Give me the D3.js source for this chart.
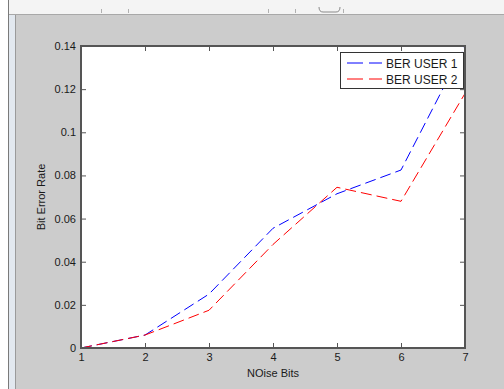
<!DOCTYPE html>
<html>
<head>
<meta charset="utf-8">
<script src="https://cdn.jsdelivr.net/npm/d3@7"></script>
<style>
  body { margin: 0; background: #cccccc; }
  svg { display: block; font-family: "Liberation Sans", Arial, sans-serif; }
</style>
</head>
<body>
<div id="chart"></div>
<script>
// data
var noiseBits = [1, 2, 3, 4, 5, 6, 7];
var berUser1 = [0, 0.006, 0.025, 0.0555, 0.0715, 0.0825, 0.14];
var berUser2 = [0, 0.006, 0.0175, 0.048, 0.0745, 0.068, 0.118];
var yTicks = [0, 0.02, 0.04, 0.06, 0.08, 0.1, 0.12, 0.14];
var seriesNames = ["BER USER 1", "BER USER 2"];
var seriesColors = ["#0000ff", "#ff0000"];

var width = 504, height = 389;
// note: can't call it "top", window.top is read only
var mLeft = 81, mRight = 465, mTop = 46, mBottom = 348;

var svg = d3.select("#chart").append("svg")
  .attr("width", width)
  .attr("height", height);

// window chrome bits (figure toolbar strip + left border)
svg.append("rect").attr("x", 0).attr("y", 0).attr("width", width).attr("height", height).attr("fill", "#cccccc");
svg.append("rect").attr("x", 0).attr("y", 0).attr("width", width).attr("height", 14).attr("fill", "#f4f4f4");
svg.append("line").attr("x1", 0).attr("x2", width).attr("y1", 14.5).attr("y2", 14.5).attr("stroke", "#a8a8a8");
[101, 128, 268, 295, 343].forEach(function(x) {
  svg.append("line").attr("x1", x + 0.5).attr("x2", x + 0.5).attr("y1", 9).attr("y2", 13).attr("stroke", "#b0b0b0");
});
svg.append("path").attr("d", "M319,7 Q319,12 323,12 L336,12 Q340,12 340,7")
  .attr("fill", "none").attr("stroke", "#8a8a8a");
svg.append("rect").attr("x", 0).attr("y", 0).attr("width", 8).attr("height", height).attr("fill", "#ffffff");
svg.append("line").attr("x1", 8.5).attr("x2", 8.5).attr("y1", 0).attr("y2", height).attr("stroke", "#7a7a7a");
svg.append("rect").attr("x", 9).attr("y", 15).attr("width", 6).attr("height", height - 15).attr("fill", "#e2e8ef");
svg.append("line").attr("x1", 15.5).attr("x2", 15.5).attr("y1", 15).attr("y2", height).attr("stroke", "#9a9a9a");

var x = d3.scaleLinear().domain([1, 7]).range([mLeft, mRight]);
var y = d3.scaleLinear().domain([0, 0.14]).range([mBottom, mTop]);

svg.append("rect")
  .attr("x", mLeft).attr("y", mTop)
  .attr("width", mRight - mLeft).attr("height", mBottom - mTop)
  .attr("fill", "#ffffff");

svg.append("clipPath").attr("id", "plotclip")
  .append("rect").attr("x", mLeft).attr("y", mTop - 1).attr("width", mRight - mLeft + 1).attr("height", mBottom - mTop + 2);

var line = d3.line()
  .x(function(d, i) { return x(noiseBits[i]); })
  .y(function(d) { return y(d); });

[berUser1, berUser2].forEach(function(vals, k) {
  svg.append("path")
    .datum(vals)
    .attr("clip-path", "url(#plotclip)")
    .attr("d", line)
    .attr("fill", "none")
    .attr("stroke", seriesColors[k])
    .attr("stroke-width", 1)
    .attr("stroke-dasharray", "11,5");
});

// axes: ticks point inward, mirrored on top and right
var tickLen = 5;
var axColor = "#555555";
var axB = svg.append("g").attr("transform", "translate(0," + mBottom + ")")
  .call(d3.axisBottom(x).tickValues(noiseBits).tickFormat(d3.format("d")).tickSizeInner(-tickLen).tickSizeOuter(0).tickPadding(5));
var axT = svg.append("g").attr("transform", "translate(0," + mTop + ")")
  .call(d3.axisTop(x).tickValues(noiseBits).tickFormat("").tickSizeInner(-tickLen).tickSizeOuter(0));
var axL = svg.append("g").attr("transform", "translate(" + mLeft + ",0)")
  .call(d3.axisLeft(y).tickValues(yTicks).tickFormat(function(d) { return d3.format("")(+d.toFixed(2)); }).tickSizeInner(-tickLen).tickSizeOuter(0).tickPadding(5));
var axR = svg.append("g").attr("transform", "translate(" + mRight + ",0)")
  .call(d3.axisRight(y).tickValues(yTicks).tickFormat("").tickSizeInner(-tickLen).tickSizeOuter(0));

[axB, axT, axL, axR].forEach(function(g) {
  g.select(".domain").remove();
  g.selectAll(".tick line").attr("stroke", axColor);
  g.selectAll("text").attr("fill", "#1a1a1a").style("font-size", "11px")
    .style("font-family", "'Liberation Sans', Arial, sans-serif");
  g.selectAll(".tick:first-child line, .tick:last-child line").remove();
});

svg.append("rect")
  .attr("x", mLeft).attr("y", mTop)
  .attr("width", mRight - mLeft).attr("height", mBottom - mTop)
  .attr("fill", "none").attr("stroke", axColor).attr("stroke-width", 2);

// axis titles
svg.append("text")
  .attr("x", (mLeft + mRight) / 2).attr("y", 377)
  .attr("text-anchor", "middle")
  .attr("fill", "#1a1a1a").style("font-size", "11px")
  .text("NOise Bits");

svg.append("text")
  .attr("transform", "translate(45," + (mTop + mBottom) / 2 + ") rotate(-90)")
  .attr("text-anchor", "middle")
  .attr("fill", "#1a1a1a").style("font-size", "11px")
  .text("Bit Error Rate");

// legend
var lg = svg.append("g");
lg.append("rect")
  .attr("x", 340.5).attr("y", 52.5).attr("width", 123).attr("height", 36)
  .attr("fill", "#ffffff").attr("stroke", "#333333").attr("stroke-width", 1);
seriesNames.forEach(function(name, k) {
  var ly = 63 + k * 16;
  lg.append("line")
    .attr("x1", 347).attr("x2", 382).attr("y1", ly).attr("y2", ly)
    .attr("stroke", seriesColors[k]).attr("stroke-width", 1)
    .attr("stroke-dasharray", "16,6");
  lg.append("text")
    .attr("x", 386).attr("y", ly + 4.5)
    .attr("fill", "#1a1a1a").style("font-size", "12px")
    .text(name);
});
</script>
</body>
</html>
